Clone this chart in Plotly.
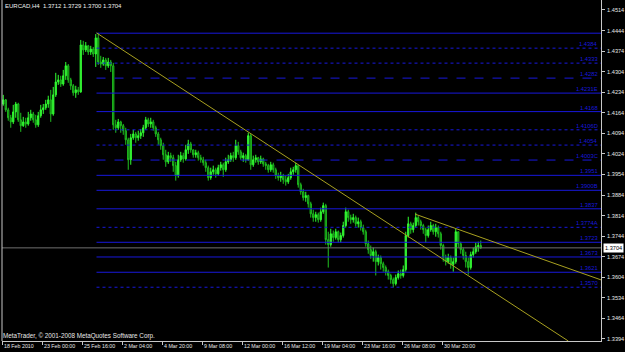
import plotly.graph_objects as go

symbol_title = "EURCAD,H4  1.3712 1.3729 1.3700 1.3704"
copyright_text = "MetaTrader, © 2001-2008 MetaQuotes Software Corp."

time_tick_bars = [0, 16, 32, 48, 64, 80, 96, 112, 128, 144, 160, 176]
time_tick_labels = ["18 Feb 2010", "23 Feb 00:00", "25 Feb 16:00", "2 Mar 04:00",
                    "4 Mar 20:00", "9 Mar 08:00", "12 Mar 00:00", "16 Mar 12:00",
                    "19 Mar 04:00", "23 Mar 16:00", "26 Mar 08:00", "30 Mar 20:00"]

price_ticks = [1.4514, 1.4444, 1.4374, 1.4304, 1.4234, 1.4164, 1.4094, 1.4024, 1.3954,
               1.3884, 1.3814, 1.3744, 1.3674, 1.3604, 1.3534, 1.3464, 1.3394]

opens = [1.4194,1.4208,1.4174,1.4147,1.4133,1.4167,1.4194,1.4140,1.4120,1.4133,
         1.4126,1.4147,1.4160,1.4140,1.4123,1.4154,1.4174,1.4181,1.4194,1.4208,
         1.4160,1.4225,1.4269,1.4276,1.4262,1.4290,1.4324,1.4276,1.4256,1.4232,
         1.4242,1.4235,1.4395,1.4378,1.4392,1.4371,1.4381,1.4364,1.4419,1.4337,
         1.4330,1.4344,1.4324,1.4337,1.4324,1.4123,1.4113,1.4133,1.4120,1.4103,
         1.4072,1.4004,1.4079,1.4092,1.4079,1.4086,1.4096,1.4113,1.4140,1.4126,
         1.4133,1.4113,1.4092,1.4072,1.4052,1.4021,1.3997,1.4018,1.4011,1.3984,
         1.3950,1.4004,1.4018,1.4007,1.4038,1.4058,1.4038,1.4021,1.4028,1.4011,
         1.4004,1.3994,1.3977,1.3943,1.3963,1.3970,1.3956,1.3977,1.3987,1.3970,
         1.3997,1.4004,1.4018,1.4011,1.4052,1.4031,1.4011,1.4018,1.4004,1.4086,
         1.3987,1.4004,1.4011,1.3997,1.4007,1.3990,1.3984,1.3970,1.3987,1.3970,
         1.3950,1.3943,1.3950,1.3936,1.3929,1.3943,1.3963,1.3970,1.3984,1.3919,
         1.3895,1.3875,1.3882,1.3854,1.3820,1.3807,1.3817,1.3800,1.3827,1.3848,
         1.3732,1.3715,1.3752,1.3739,1.3759,1.3732,1.3746,1.3780,1.3827,1.3807,
         1.3800,1.3807,1.3786,1.3793,1.3773,1.3759,1.3718,1.3698,1.3678,1.3691,
         1.3657,1.3671,1.3650,1.3637,1.3623,1.3610,1.3596,1.3582,1.3603,1.3616,
         1.3610,1.3630,1.3746,1.3786,1.3766,1.3780,1.3807,1.3793,1.3780,1.3766,
         1.3746,1.3766,1.3780,1.3759,1.3773,1.3752,1.3712,1.3671,1.3657,1.3671,
         1.3647,1.3657,1.3759,1.3718,1.3698,1.3678,1.3657,1.3637,1.3681,1.3691,
         1.3708,1.3712]

closes = [1.4208,1.4174,1.4147,1.4133,1.4167,1.4194,1.4140,1.4120,1.4133,1.4126,
          1.4147,1.4160,1.4140,1.4123,1.4154,1.4174,1.4181,1.4194,1.4208,1.4160,
          1.4225,1.4269,1.4276,1.4262,1.4290,1.4324,1.4276,1.4256,1.4232,1.4242,
          1.4235,1.4395,1.4378,1.4392,1.4371,1.4381,1.4364,1.4419,1.4337,1.4330,
          1.4344,1.4324,1.4337,1.4324,1.4123,1.4113,1.4133,1.4120,1.4103,1.4072,
          1.4004,1.4079,1.4092,1.4079,1.4086,1.4096,1.4113,1.4140,1.4126,1.4133,
          1.4113,1.4092,1.4072,1.4052,1.4021,1.3997,1.4018,1.4011,1.3984,1.3950,
          1.4004,1.4018,1.4007,1.4038,1.4058,1.4038,1.4021,1.4028,1.4011,1.4004,
          1.3994,1.3977,1.3943,1.3963,1.3970,1.3956,1.3977,1.3987,1.3970,1.3997,
          1.4004,1.4018,1.4011,1.4052,1.4031,1.4011,1.4018,1.4004,1.4086,1.3987,
          1.4004,1.4011,1.3997,1.4007,1.3990,1.3984,1.3970,1.3987,1.3970,1.3950,
          1.3943,1.3950,1.3936,1.3929,1.3943,1.3963,1.3970,1.3984,1.3919,1.3895,
          1.3875,1.3882,1.3854,1.3820,1.3807,1.3817,1.3800,1.3827,1.3848,1.3732,
          1.3715,1.3752,1.3739,1.3759,1.3732,1.3746,1.3780,1.3827,1.3807,1.3800,
          1.3807,1.3786,1.3793,1.3773,1.3759,1.3718,1.3698,1.3678,1.3691,1.3657,
          1.3671,1.3650,1.3637,1.3623,1.3610,1.3596,1.3582,1.3603,1.3616,1.3610,
          1.3630,1.3746,1.3786,1.3766,1.3780,1.3807,1.3793,1.3780,1.3766,1.3746,
          1.3766,1.3780,1.3759,1.3773,1.3752,1.3712,1.3671,1.3657,1.3671,1.3647,
          1.3657,1.3759,1.3718,1.3698,1.3678,1.3657,1.3637,1.3681,1.3691,1.3708,
          1.3712,1.3704]

highs = [1.4225,1.4211,1.4181,1.4157,1.4191,1.4201,1.4198,1.4164,1.4150,1.4147,
         1.4167,1.4174,1.4167,1.4157,1.4167,1.4191,1.4194,1.4208,1.4222,1.4242,
         1.4252,1.4300,1.4293,1.4290,1.4310,1.4337,1.4330,1.4283,1.4262,1.4256,
         1.4252,1.4412,1.4409,1.4405,1.4395,1.4392,1.4388,1.4432,1.4436,1.4358,
         1.4354,1.4351,1.4351,1.4344,1.4334,1.4140,1.4143,1.4137,1.4126,1.4113,
         1.4079,1.4092,1.4106,1.4099,1.4103,1.4109,1.4123,1.4150,1.4147,1.4147,
         1.4140,1.4120,1.4099,1.4079,1.4062,1.4038,1.4031,1.4028,1.4021,1.3997,
         1.4021,1.4031,1.4028,1.4055,1.4072,1.4065,1.4038,1.4038,1.4035,1.4021,
         1.4014,1.4004,1.3984,1.3977,1.3984,1.3977,1.3987,1.3997,1.3994,1.4011,
         1.4021,1.4028,1.4031,1.4072,1.4065,1.4038,1.4028,1.4024,1.4096,1.4092,
         1.4018,1.4021,1.4014,1.4018,1.4011,1.3997,1.3990,1.3997,1.3994,1.3977,
         1.3960,1.3963,1.3956,1.3950,1.3956,1.3977,1.3980,1.3994,1.3984,1.3926,
         1.3905,1.3895,1.3885,1.3861,1.3834,1.3827,1.3824,1.3841,1.3858,1.3854,
         1.3759,1.3769,1.3763,1.3769,1.3763,1.3756,1.3793,1.3841,1.3834,1.3817,
         1.3820,1.3814,1.3807,1.3800,1.3783,1.3766,1.3729,1.3712,1.3705,1.3698,
         1.3681,1.3678,1.3657,1.3644,1.3630,1.3616,1.3603,1.3613,1.3627,1.3630,
         1.3644,1.3759,1.3810,1.3793,1.3790,1.3824,1.3814,1.3800,1.3786,1.3773,
         1.3780,1.3793,1.3786,1.3786,1.3780,1.3759,1.3718,1.3681,1.3684,1.3678,
         1.3671,1.3769,1.3759,1.3725,1.3705,1.3691,1.3671,1.3691,1.3705,1.3722,
         1.3725,1.3729]

lows = [1.4188,1.4167,1.4137,1.4113,1.4126,1.4147,1.4133,1.4099,1.4116,1.4113,
        1.4120,1.4137,1.4130,1.4113,1.4116,1.4147,1.4160,1.4174,1.4181,1.4133,
        1.4154,1.4218,1.4259,1.4252,1.4256,1.4276,1.4266,1.4242,1.4222,1.4215,
        1.4225,1.4232,1.4361,1.4371,1.4361,1.4361,1.4354,1.4320,1.4327,1.4317,
        1.4324,1.4310,1.4317,1.4303,1.4106,1.4096,1.4106,1.4096,1.4089,1.4055,
        1.3970,1.3987,1.4072,1.4062,1.4069,1.4075,1.4082,1.4106,1.4116,1.4113,
        1.4103,1.4082,1.4055,1.4038,1.4004,1.3980,1.3990,1.3997,1.3963,1.3933,
        1.3943,1.3997,1.3994,1.4001,1.4024,1.4028,1.4011,1.4011,1.4001,1.3994,
        1.3984,1.3963,1.3933,1.3936,1.3953,1.3943,1.3950,1.3967,1.3946,1.3963,
        1.3990,1.3997,1.3997,1.4004,1.4021,1.4004,1.3997,1.3994,1.4001,1.3970,
        1.3980,1.3994,1.3987,1.3990,1.3980,1.3970,1.3960,1.3963,1.3960,1.3939,
        1.3933,1.3929,1.3922,1.3916,1.3922,1.3936,1.3953,1.3960,1.3909,1.3885,
        1.3865,1.3861,1.3841,1.3807,1.3793,1.3793,1.3790,1.3793,1.3820,1.3715,
        1.3637,1.3708,1.3725,1.3732,1.3722,1.3722,1.3739,1.3773,1.3793,1.3786,
        1.3790,1.3776,1.3773,1.3763,1.3749,1.3708,1.3684,1.3667,1.3657,1.3610,
        1.3644,1.3630,1.3623,1.3610,1.3596,1.3582,1.3569,1.3576,1.3596,1.3599,
        1.3603,1.3623,1.3739,1.3752,1.3756,1.3773,1.3780,1.3766,1.3752,1.3722,
        1.3739,1.3759,1.3749,1.3742,1.3739,1.3698,1.3657,1.3644,1.3650,1.3633,
        1.3623,1.3650,1.3705,1.3684,1.3664,1.3637,1.3613,1.3630,1.3671,1.3684,
        1.3691,1.3700]

level_prices = [1.4435, 1.4384, 1.4333, 1.4282, 1.4231, 1.4168, 1.4106, 1.4054, 1.4003,
                1.3951, 1.3900, 1.3837, 1.3774, 1.3723, 1.3673, 1.3621, 1.3570]
level_labels = ["", "1.4384", "1.4333", "1.4282", "1.4231E", "1.4168", "1.4106D", "1.4054",
                "1.4003C", "1.3951", "1.3900B", "1.3837", "1.3774A", "1.3723", "1.3673",
                "1.3621", "1.3570"]
level_styles = ["solid", "dot", "dot", "dash", "solid", "solid", "dot", "dot", "dash",
                "solid", "solid", "solid", "dot", "solid", "solid", "solid", "dot"]
level_start_bar = 37.3

trend_main_x = [37.3, 226.0]
trend_main_y = [1.4436, 1.3387]
trend_upper_x = [164.7, 239.1]
trend_upper_y = [1.3819, 1.3595]

bid_price = 1.3704

X_MIN, X_MAX = -0.5, 239.1
Y_MIN, Y_MAX = 1.33869, 1.4548

FONT = "Liberation Sans"
LEVEL_COLOR = "#1818DC"
TREND_COLOR = "#A8A020"
AXIS_COLOR = "#C8C8C8"

bars = list(range(len(closes)))

fig = go.Figure()

# bid line
fig.add_trace(go.Scatter(x=[X_MIN, X_MAX], y=[bid_price, bid_price], mode="lines",
                         line=dict(color="#707070", width=1), hoverinfo="skip"))

# level lines
for p, st in zip(level_prices, level_styles):
    fig.add_trace(go.Scatter(x=[level_start_bar, X_MAX], y=[p, p], mode="lines",
                             line=dict(color=LEVEL_COLOR, width=1, dash=st), hoverinfo="skip"))

fig.add_trace(go.Candlestick(
    x=bars, open=opens, high=highs, low=lows, close=closes,
    increasing=dict(line=dict(color="#30FF30", width=1), fillcolor="#40E040"),
    decreasing=dict(line=dict(color="#20C020", width=1), fillcolor="#005A00"),
    whiskerwidth=0, hoverinfo="skip"))

fig.add_trace(go.Scatter(x=trend_main_x, y=trend_main_y, mode="lines",
                         line=dict(color=TREND_COLOR, width=1), hoverinfo="skip"))
fig.add_trace(go.Scatter(x=trend_upper_x, y=trend_upper_y, mode="lines",
                         line=dict(color=TREND_COLOR, width=1), hoverinfo="skip"))

annotations = []
for p, lab in zip(level_prices, level_labels):
    if lab:
        annotations.append(dict(xref="paper", yref="y", x=0.9967, y=p, text=lab,
                                showarrow=False, xanchor="right", yanchor="bottom",
                                font=dict(family=FONT, size=5.8, color=LEVEL_COLOR),
                                borderpad=0))

for b, lab in zip(time_tick_bars, time_tick_labels):
    annotations.append(dict(xref="x", yref="paper", x=b - 0.5, y=0, text=lab,
                            showarrow=False, xanchor="left", yanchor="middle",
                            xshift=1, yshift=-5, borderpad=0,
                            font=dict(family=FONT, size=5.3, color="#E8E8E8")))

annotations.append(dict(xref="paper", yref="paper", x=0.004, y=1, text=symbol_title,
                        showarrow=False, xanchor="left", yanchor="middle", yshift=-6,
                        borderpad=0, font=dict(family=FONT, size=6, color="#F0F0F0")))
annotations.append(dict(xref="paper", yref="paper", x=0.0, y=0, text=copyright_text,
                        showarrow=False, xanchor="left", yanchor="middle", yshift=5,
                        borderpad=0, font=dict(family=FONT, size=6.3, color="#E8E8E8")))
annotations.append(dict(xref="paper", yref="y", x=1, y=bid_price, text=f"{bid_price:.4f}",
                        showarrow=False, xanchor="left", yanchor="middle", xshift=2,
                        bgcolor="#FFFFFF", borderpad=1,
                        font=dict(family=FONT, size=5.6, color="#000000")))

fig.update_layout(
    width=625, height=352,
    margin=dict(l=2, r=24, t=0, b=11),
    paper_bgcolor="#000000", plot_bgcolor="#000000",
    showlegend=False,
    annotations=annotations,
    shapes=[dict(type="line", xref="paper", yref="paper", x0=0, x1=0, y0=0, y1=1,
                 line=dict(color=AXIS_COLOR, width=1))],
    xaxis=dict(range=[X_MIN, X_MAX], showgrid=False, zeroline=False,
               showline=True, linecolor=AXIS_COLOR, linewidth=1,
               ticks="outside", ticklen=3, tickcolor=AXIS_COLOR,
               tickvals=[b - 0.5 for b in time_tick_bars], showticklabels=False,
               rangeslider=dict(visible=False), fixedrange=True),
    yaxis=dict(range=[Y_MIN, Y_MAX], side="right", showgrid=False, zeroline=False,
               showline=True, linecolor=AXIS_COLOR, linewidth=1,
               ticks="outside", ticklen=3, tickcolor=AXIS_COLOR,
               tickvals=price_ticks, ticktext=[f"{v:.4f}" for v in price_ticks],
               tickfont=dict(family=FONT, size=5.6, color="#E8E8E8"),
               ticklabelstandoff=1, fixedrange=True),
)

fig.write_html("out.html")
